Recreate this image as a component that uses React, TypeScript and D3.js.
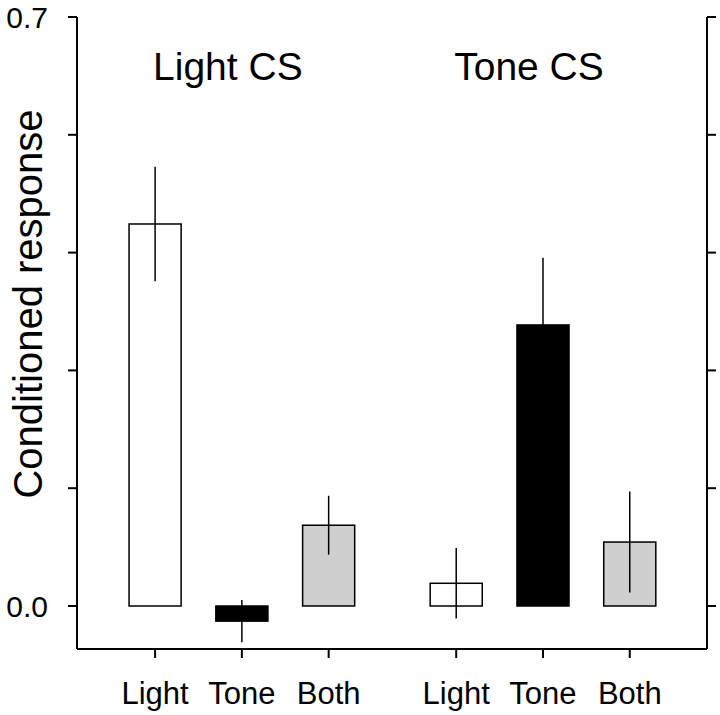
import React from "react";
import * as d3 from "d3";

const groupTitles = ["Light CS", "Tone CS"];
const barLabels = ["Light", "Tone", "Both", "Light", "Tone", "Both"];
const barPositions = [1, 2, 3, 4.47, 5.47, 6.47];
const barValues = [0.454, -0.018, 0.096, 0.027, 0.334, 0.076];
const barErrors = [0.068, 0.025, 0.035, 0.042, 0.08, 0.06];
const barKinds = ["light", "tone", "both", "light", "tone", "both"];
const yTicks = [0, 0.14, 0.28, 0.42, 0.56, 0.7];
const yTickLabels = ["0.0", "", "", "", "", "0.7"];
const titlePositions = [2, 5.47];

const W = 720;
const H = 715;
const left = 77;
const right = 707;
const top = 17;
const bottom = 649;
const FONT = "'Liberation Sans', Arial, Helvetica, sans-serif";

const fills: Record<string, string> = { light: "#ffffff", tone: "#000000", both: "#cfcfcf" };

export default function App() {
  const x = d3.scaleLinear().domain([0.1, 7.36]).range([left, right]);
  const y = d3.scaleLinear().domain([0, 0.7]).range([606, top]);
  const bw = x(0.6) - x(0);

  return (
    <svg width={W} height={H} style={{ position: "absolute", left: 0, top: 0, background: "#fff" }}>
      {barValues.map((v, i) => {
        const y0 = y(0);
        const y1 = y(v);
        return (
          <rect
            key={"b" + i}
            x={x(barPositions[i]) - bw / 2}
            y={Math.min(y0, y1)}
            width={bw}
            height={Math.abs(y1 - y0)}
            fill={fills[barKinds[i]]}
            stroke="#000"
            strokeWidth={1.5}
          />
        );
      })}
      {barValues.map((v, i) => (
        <line
          key={"e" + i}
          x1={x(barPositions[i])}
          x2={x(barPositions[i])}
          y1={y(v + barErrors[i])}
          y2={y(v - barErrors[i])}
          stroke="#000"
          strokeWidth={1.5}
        />
      ))}
      <g stroke="#000" strokeWidth={2} fill="none">
        <line x1={left} x2={left} y1={top} y2={bottom} />
        <line x1={right} x2={right} y1={top} y2={bottom} />
        <line x1={left} x2={right} y1={bottom} y2={bottom} />
        {yTicks.map((t, i) => (
          <g key={"yt" + i}>
            <line x1={left - 9} x2={left} y1={y(t)} y2={y(t)} />
            <line x1={right} x2={right + 9} y1={y(t)} y2={y(t)} />
          </g>
        ))}
        {barPositions.map((p, i) => (
          <line key={"xt" + i} x1={x(p)} x2={x(p)} y1={bottom} y2={bottom + 9} />
        ))}
      </g>
      <g fontFamily={FONT} fontSize={30} fill="#000">
        {yTicks.map((t, i) =>
          yTickLabels[i] ? (
            <text key={"yl" + i} x={48} y={y(t)} dy="0.36em" textAnchor="end">
              {yTickLabels[i]}
            </text>
          ) : null
        )}
      </g>
      <g fontFamily={FONT} fontSize={31} fill="#000">
        {barLabels.map((l, i) => (
          <text key={"xl" + i} x={x(barPositions[i])} y={704} textAnchor="middle">
            {l}
          </text>
        ))}
      </g>
      <g fontFamily={FONT} fontSize={39} fill="#000">
        {groupTitles.map((t, i) => (
          <text key={"gt" + i} x={x(titlePositions[i]) - 14} y={80} textAnchor="middle">
            {t}
          </text>
        ))}
      </g>
      <text
        transform="translate(42,304) rotate(-90)"
        textAnchor="middle"
        fontFamily={FONT}
        fontSize={40}
        fill="#000"
      >
        Conditioned response
      </text>
    </svg>
  );
}
